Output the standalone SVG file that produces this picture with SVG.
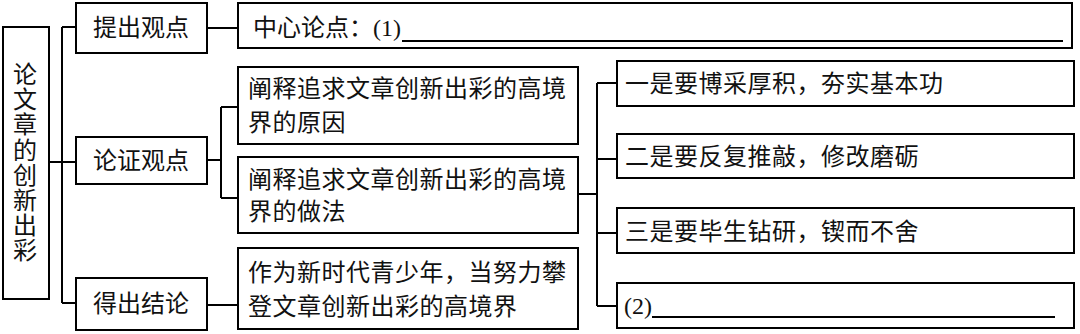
<svg xmlns="http://www.w3.org/2000/svg" width="1080" height="334" viewBox="0 0 1080 334">
<style>
rect{fill:#fff;stroke:#000;stroke-width:2}
.c{fill:none;stroke:#000;stroke-width:2}
text{font-family:"Liberation Serif","Noto Sans CJK SC",serif;font-size:24px;fill:#111;dominant-baseline:central}
.m{text-anchor:middle}
.s{letter-spacing:0.5px}
</style>
<rect width="1080" height="334" style="stroke:none"/>
<g id="connectors">
<path class="c" d="M49 162H62M62 27V303M62 27H76M62 162H76M62 303H76"/>
<path class="c" d="M207 28H238"/>
<path class="c" d="M207 160H221M221 107V198M221 107H238M221 198H238"/>
<path class="c" d="M207 305H238"/>
<path class="c" d="M578 194H597M597 83V306M597 83H617M597 159H617M597 233H617M597 306H617"/>
</g>
<g id="root">
<rect x="3" y="27" width="46" height="272"/>
<text class="m" x="25"><tspan x="25" y="75">论</tspan><tspan x="25" y="100">文</tspan><tspan x="25" y="125">章</tspan><tspan x="25" y="151">的</tspan><tspan x="25" y="176">创</tspan><tspan x="25" y="201">新</tspan><tspan x="25" y="226">出</tspan><tspan x="25" y="251">彩</tspan></text>
</g>
<g id="n-tichu">
<rect x="76" y="3" width="131" height="50"/>
<text class="m" x="141" y="28">提出观点</text>
</g>
<g id="n-lunzheng">
<rect x="76" y="137" width="131" height="47"/>
<text class="m" x="141" y="161">论证观点</text>
</g>
<g id="n-dechu">
<rect x="76" y="278" width="131" height="52"/>
<text class="m" x="141" y="304">得出结论</text>
</g>
<g id="n-zhongxin">
<rect x="238" y="3" width="834" height="45"/>
<text x="253" y="28">中心论点：<tspan>(1)</tspan></text>
<path class="c" d="M402 41H1063"/>
</g>
<g id="n-yuanyin">
<rect x="238" y="67" width="340" height="77"/>
<text class="s" x="248" y="89">阐释追求文章创新出彩的高境</text>
<text class="s" x="248" y="123">界的原因</text>
</g>
<g id="n-zuofa">
<rect x="238" y="157" width="340" height="76"/>
<text class="s" x="248" y="180">阐释追求文章创新出彩的高境</text>
<text class="s" x="248" y="212">界的做法</text>
</g>
<g id="n-jielun">
<rect x="238" y="248" width="340" height="81"/>
<text class="s" x="248" y="273">作为新时代青少年，当努力攀</text>
<text class="s" x="248" y="307">登文章创新出彩的高境界</text>
</g>
<g id="n-yi">
<rect x="617" y="61" width="457" height="45"/>
<text class="s" x="625" y="84">一是要博采厚积，夯实基本功</text>
</g>
<g id="n-er">
<rect x="617" y="134" width="457" height="44"/>
<text class="s" x="625" y="157">二是要反复推敲，修改磨砺</text>
</g>
<g id="n-san">
<rect x="617" y="208" width="457" height="45"/>
<text class="s" x="625" y="232">三是要毕生钻研，锲而不舍</text>
</g>
<g id="n-si">
<rect x="617" y="283" width="457" height="45"/>
<text x="624" y="306">(2)</text>
<path class="c" d="M652 317H1055"/>
</g>
</svg>
